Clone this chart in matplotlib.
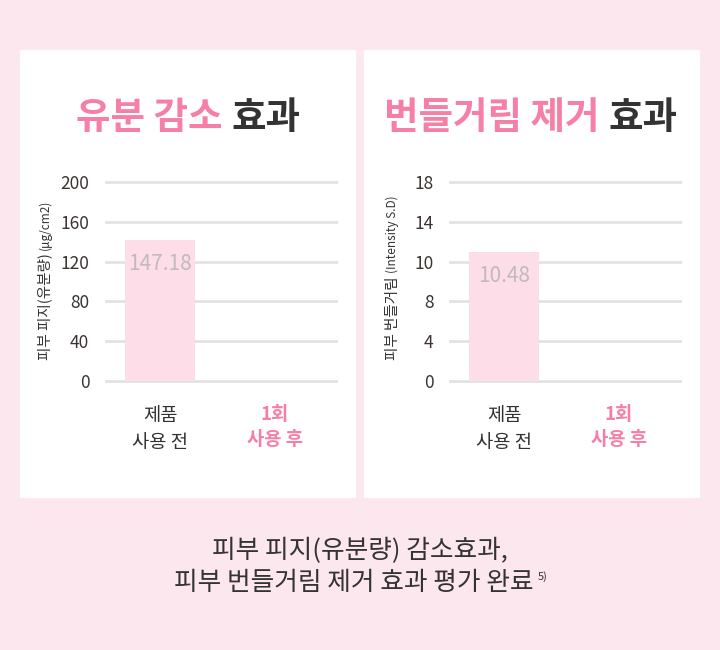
import numpy as np
import matplotlib
matplotlib.use("Agg")
import matplotlib.pyplot as plt
from matplotlib.patches import Rectangle

plt.rcParams['font.family'] = ['Noto Sans CJK KR', 'DejaVu Sans']

# data
categories = ["제품\n사용 전", "1회\n사용 후"]
sebum_bar = [141.7]            # drawn height of the "before" bar
sebum_labels = ["147.18"]
sebum_ticks = [0, 40, 80, 120, 160, 200]

shine_bar = [11.67]            # on an evenly spaced 0..18 scale
shine_labels = ["10.48"]
shine_tick_labels = ["0", "4", "8", "10", "14", "18"]

BG = "#fce7ee"
PINK = "#f67fa5"
BAR = "#fddde7"
DARK = "#333333"
GRID = "#e2e2e2"

W, H = 720, 650
fig = plt.figure(figsize=(W / 100, H / 100), dpi=100)
fig.patch.set_facecolor(BG)
renderer = fig.canvas.get_renderer()


def px(x, y):
    return x / W, 1 - y / H


# white panels
for x0, x1 in [(20, 355), (364, 699)]:
    fig.patches.append(Rectangle((x0 / W, 1 - 497 / H), (x1 - x0) / W, 447 / H,
                                 transform=fig.transFigure, color="white", zorder=-5))


def panel(ax, bars, labels, ylim, tick_pos, tick_labels, ylabel, unit, label_x):
    ax.set_facecolor("none")
    ax.set_xlim(-0.47, 1.53)
    ax.set_ylim(0, ylim)
    for t in tick_pos:
        ax.axhline(t, color=GRID, lw=2, zorder=1, clip_on=False)
    xs = np.arange(len(bars))
    ax.bar(xs, bars, width=0.61, color=BAR, zorder=2)
    for x, h, lab in zip(xs, bars, labels):
        ax.annotate(lab, (x, h), xytext=(0, -17), textcoords="offset points",
                    ha="center", va="center", fontsize=15, color="#c2baba",
                    fontweight="medium", zorder=3)
    ax.set_yticks(tick_pos)
    ax.set_yticklabels(tick_labels, fontsize=12.5, color="#3a3330")
    ax.set_xticks(range(len(categories)))
    ax.set_xticklabels(categories, fontsize=13.5, linespacing=1.4)
    tl = ax.get_xticklabels()
    tl[0].set_color(DARK)
    tl[1].set_color(PINK)
    tl[1].set_fontweight("bold")
    ax.tick_params(axis="both", length=0)
    ax.tick_params(axis="x", pad=17)
    ax.tick_params(axis="y", pad=12)
    for s in ax.spines.values():
        s.set_visible(False)
    # rotated axis label in two sizes, bottom end at y=360px
    y0 = (381 - 360) / 199
    t1 = ax.text(label_x, y0, ylabel + " ", transform=ax.transAxes, rotation=90,
                 ha="center", va="bottom", fontsize=10.5, color=DARK)
    h1 = t1.get_window_extent(renderer).height / 199
    ax.text(label_x, y0 + h1, unit, transform=ax.transAxes, rotation=90,
            ha="center", va="bottom", fontsize=8.5, color=DARK)


ax1 = fig.add_axes([106 / W, 1 - 381 / H, 230 / W, 199 / H])
panel(ax1, sebum_bar, sebum_labels, 200, sebum_ticks,
      [str(t) for t in sebum_ticks], "피부 피지(유분량)", "(μg/cm2)", -0.265)

ax2 = fig.add_axes([450 / W, 1 - 381 / H, 230 / W, 199 / H])
panel(ax2, shine_bar, shine_labels, 18, np.linspace(0, 18, 6),
      shine_tick_labels, "피부 번들거림", "(Intensity S.D)", -0.25)


# panel titles: pink part + dark part
def title(cx, pink_part, dark_part):
    t1 = fig.text(0, 0, pink_part + " ", fontsize=27, fontweight="bold", color=PINK)
    t2 = fig.text(0, 0, dark_part, fontsize=27, fontweight="bold", color=DARK)
    w1 = t1.get_window_extent(renderer).width
    w2 = t2.get_window_extent(renderer).width
    x0 = cx - (w1 + w2) / 2
    y = 1 - 118 / H
    t1.set_position((x0 / W, y))
    t2.set_position(((x0 + w1) / W, y))
    t1.set_va("center")
    t2.set_va("center")


title(188, "유분 감소", "효과")
title(531, "번들거림 제거", "효과")

# footer
fig.text(*px(360, 551), "피부 피지(유분량) 감소효과,", ha="center", va="center",
         fontsize=18.5, color=DARK, fontweight="medium")
line2 = fig.text(*px(354, 583), "피부 번들거림 제거 효과 평가 완료", ha="center", va="center",
                 fontsize=18.5, color=DARK, fontweight="medium")
right = line2.get_window_extent(renderer).x1
fig.text((right + 4) / W, 1 - 577 / H, "5)", ha="left", va="center", fontsize=8, color=DARK)

fig.savefig("out.png", dpi=100, facecolor=BG)
